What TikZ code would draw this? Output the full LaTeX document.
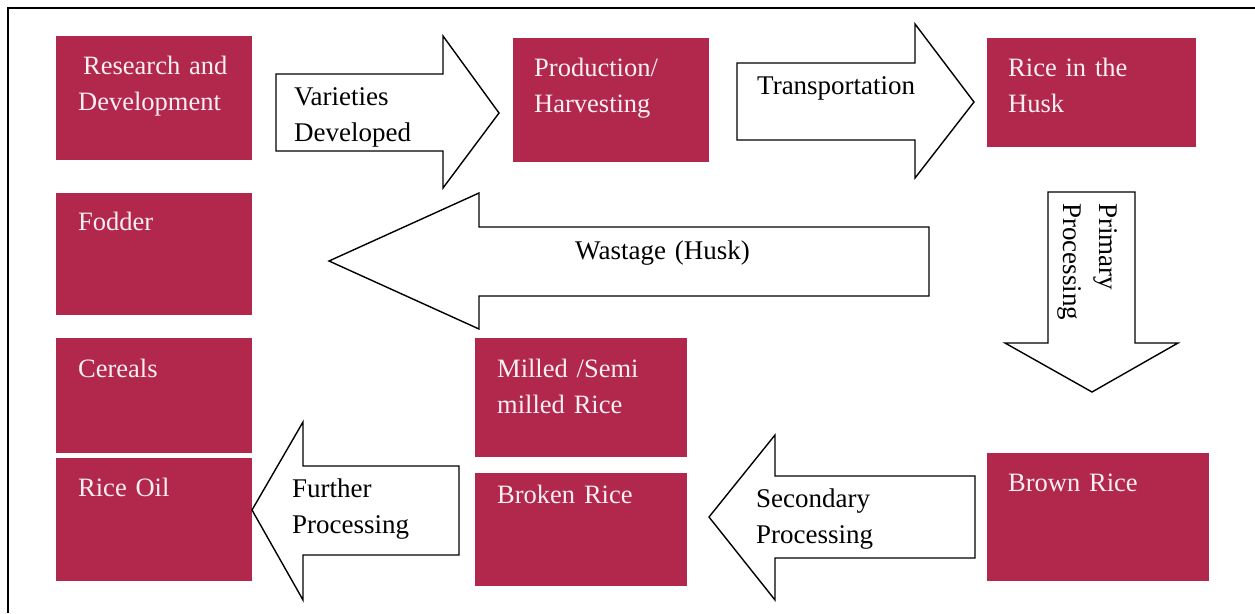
\documentclass[tikz,border=0pt]{standalone}
\usepackage{fontspec}
\setmainfont{Liberation Serif}
\definecolor{boxred}{RGB}{178,40,77}
\definecolor{boxtxt}{RGB}{250,240,242}
\begin{document}
\begin{tikzpicture}[x=1pt,y=-1pt,
  box/.style={fill=boxred, draw=none, inner sep=0pt, anchor=north west},
  btxt/.style={text=boxtxt, font=\fontsize{26.5}{36}\selectfont, inner sep=0pt, anchor=base west, align=left, text width=210pt},
  atxt/.style={text=black, font=\fontsize{27}{36}\selectfont, inner sep=0pt, anchor=base west, align=left, text width=200pt},
  blockarrow/.style={draw=black, line width=1.4pt, fill=white, line join=miter}]
\useasboundingbox (0,0) rectangle (1255,613);
\fill[white] (0,0) rectangle (1255,613);
% frame
\draw[line width=2.2pt] (8,613) -- (8,8) -- (1255,8);

% boxes
\node[box, minimum width=196pt, minimum height=124pt] (rd) at (56,36) {};
\node[box, minimum width=196pt, minimum height=124pt] (ph) at (513,38) {};
\node[box, minimum width=209pt, minimum height=109pt] (husk) at (987,38) {};
\node[box, minimum width=196pt, minimum height=122pt] (fodder) at (56,193) {};
\node[box, minimum width=196pt, minimum height=115pt] (cereals) at (56,338) {};
\node[box, minimum width=196pt, minimum height=123pt] (oil) at (56,458) {};
\node[box, minimum width=212pt, minimum height=119pt] (milled) at (475,338) {};
\node[box, minimum width=212pt, minimum height=113pt] (broken) at (475,473) {};
\node[box, minimum width=222pt, minimum height=128pt] (brown) at (987,453) {};

% box texts
\node[btxt] (rdt) at (78,74) {\hspace*{5pt}Research and\\Development};
\node[btxt] (pht) at (534,76) {Production/\\Harvesting};
\node[btxt] (huskt) at (1008,76) {Rice in the\\Husk};
\node[btxt] (foddert) at (78,230) {Fodder};
\node[btxt] (cerealst) at (78,377) {Cereals};
\node[btxt] (oilt) at (78,496) {Rice Oil};
\node[btxt] (milledt) at (497,377) {Milled /Semi\\milled Rice};
\node[btxt] (brokent) at (497,503) {Broken Rice};
\node[btxt] (brownt) at (1008,491) {Brown Rice};

% block arrows
\draw[blockarrow] (276,74) -- (443,74) -- (443,36) -- (499,113) -- (443,188) -- (443,151) -- (276,151) -- cycle;
\draw[blockarrow] (737,63) -- (915,63) -- (915,24) -- (974,102) -- (915,178) -- (915,140) -- (737,140) -- cycle;
\draw[blockarrow] (929,227) -- (479,227) -- (479,193) -- (329,261) -- (479,329) -- (479,296) -- (929,296) -- cycle;
\draw[blockarrow] (1048,192) -- (1135,192) -- (1135,343) -- (1178,343) -- (1092,392) -- (1005,343) -- (1048,343) -- cycle;
\draw[blockarrow] (975,476) -- (775,476) -- (775,435) -- (709,517) -- (775,600) -- (775,558) -- (975,558) -- cycle;
\draw[blockarrow] (459,466) -- (303,466) -- (303,422) -- (252,510) -- (303,600) -- (303,555) -- (459,555) -- cycle;

% arrow texts
\node[atxt] (vart) at (294,105) {Varieties\\Developed};
\node[atxt] (transt) at (757,94) {Transportation};
\node[atxt] (wastt) at (575,259) {Wastage (Husk)};
\node[atxt, rotate=-90] (primt) at (1099,203) {Primary\\Processing};
\node[atxt] (furt) at (292,497) {Further\\Processing};
\node[atxt] (sect) at (756,507) {Secondary\\Processing};
\end{tikzpicture}
\end{document}
